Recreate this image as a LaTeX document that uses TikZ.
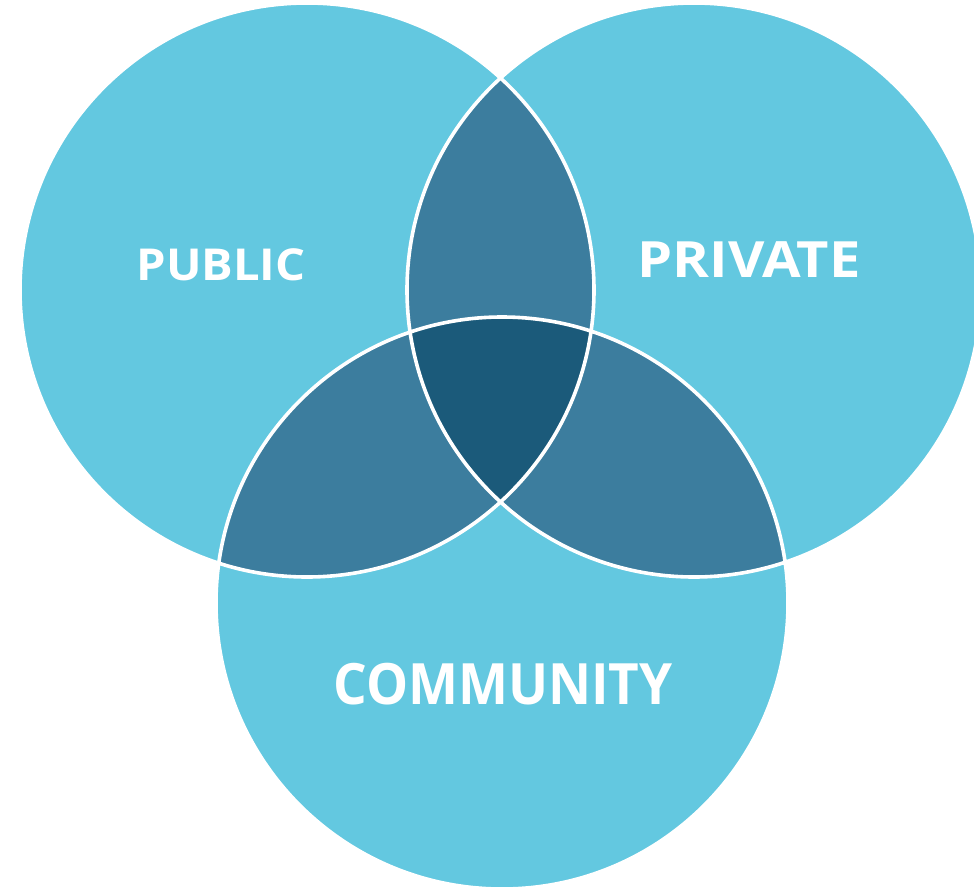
\documentclass[tikz,border=0pt]{standalone}
\usepackage{fontspec}
\setmainfont{Open Sans}

\definecolor{SetLight}{HTML}{63C8E0}
\definecolor{SetPair}{HTML}{3C7D9E}
\definecolor{SetAll}{HTML}{1B5A7A}

\begin{document}
\begin{tikzpicture}[x=1pt,y=-1pt]
			\tikzstyle{SetLabel} = [text=white,font=\bfseries,inner sep=0pt]
			\tikzstyle{SetEdge}  = [draw=white,line width=3.6pt]

			\useasboundingbox (0,0) rectangle (974,889);
			\coordinate (Public)    at (307,290);
			\coordinate (Private)   at (694,290);
			\coordinate (Community) at (502,603);

			% the three sets
			\fill[SetLight] (Public) circle (287pt) (Private) circle (287pt) (Community) circle (286pt);
			% pairwise overlaps
			\begin{scope}
				\clip (Public) circle (287pt);
				\fill[SetPair] (Private) circle (287pt) (Community) circle (286pt);
			\end{scope}
			\begin{scope}
				\clip (Private) circle (287pt);
				\fill[SetPair] (Community) circle (286pt);
			\end{scope}
			% all three
			\begin{scope}
				\clip (Public) circle (287pt);
				\clip (Private) circle (287pt);
				\fill[SetAll] (Community) circle (286pt);
			\end{scope}
			\draw[SetEdge] (Public) circle (287pt) (Private) circle (287pt) (Community) circle (286pt);

			\node[SetLabel,xscale=1.07,font=\bfseries\fontsize{44}{50}\selectfont] (public) at (221,265) {PUBLIC};
			\node[SetLabel,xscale=1.12,font=\bfseries\fontsize{50}{56}\selectfont] (private) at (749,260) {PRIVATE};
			\node[SetLabel,xscale=0.93,font=\bfseries\fontsize{57}{64}\selectfont] (community) at (503,684) {COMMUNITY};
		\end{tikzpicture}
\end{document}
